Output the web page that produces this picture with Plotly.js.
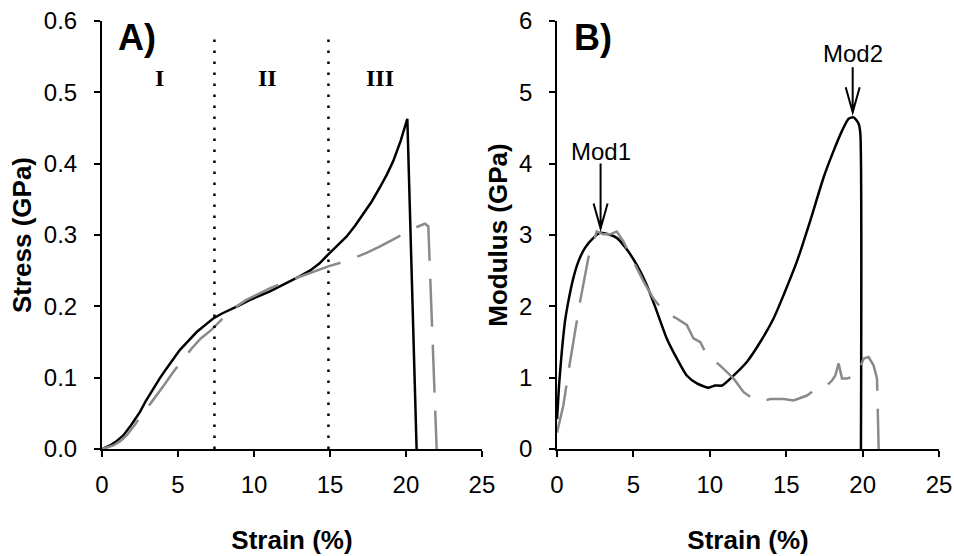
<!DOCTYPE html>
<html>
<head>
<meta charset="utf-8">
<script src="https://cdn.plot.ly/plotly-3.0.1.min.js"></script>
<style>
  html, body { margin: 0; padding: 0; background: #ffffff; }
  #chart { width: 954px; height: 556px; }
</style>
</head>
<body>
<div id="chart"></div>
<script>
// ---- Panel A: stress-strain ----
var strainA_solid = [0, 0.53, 0.9, 1.4, 1.9, 2.5, 2.9, 3.38, 3.8, 4.25, 4.7, 5.13, 5.7, 6.23, 6.8, 7.32, 7.9, 8.42, 9.0, 9.74, 10.4, 11.05, 11.7, 12.37, 13.0, 13.68, 14.3, 14.89, 15.5, 16.1, 16.65, 17.19, 17.75, 18.29, 18.75, 19.17, 19.65, 20.09, 20.7];
var stressA_solid = [0, 0.005, 0.01, 0.019, 0.033, 0.052, 0.068, 0.085, 0.099, 0.113, 0.126, 0.139, 0.152, 0.164, 0.174, 0.183, 0.19, 0.195, 0.201, 0.209, 0.215, 0.221, 0.228, 0.235, 0.242, 0.25, 0.26, 0.273, 0.285, 0.298, 0.313, 0.329, 0.347, 0.367, 0.385, 0.404, 0.432, 0.463, 0];

var strainA_dash = [0, 0.75, 1.2, 1.62, 2.2, 2.72, 3.2, 3.6, 4.1, 4.69, 5.3, 5.9, 6.5, 7.2, 7.9, 8.64, 9.5, 10.4, 11.1, 11.93, 12.8, 13.68, 14.3, 14.89, 15.99, 16.7, 17.41, 18.3, 19.17, 19.8, 20.48, 21.25, 21.47, 22.02];
var stressA_dash = [0, 0.005, 0.011, 0.019, 0.035, 0.052, 0.064, 0.075, 0.09, 0.108, 0.125, 0.141, 0.155, 0.167, 0.182, 0.197, 0.209, 0.219, 0.226, 0.233, 0.24, 0.247, 0.252, 0.256, 0.263, 0.269, 0.275, 0.284, 0.294, 0.301, 0.309, 0.316, 0.312, 0];

var regionBounds = [7.4, 14.9];
var regionLabels = ['I', 'II', 'III'];
var regionLabelX = [3.8, 10.9, 18.3];
var regionLabelY = 0.52;

// ---- Panel B: modulus-strain ----
var strainB_solid = [0, 0.13, 0.31, 0.52, 0.74, 1.07, 1.4, 1.83, 2.38, 2.82, 3.36, 3.91, 4.56, 5.22, 5.87, 6.53, 7.18, 7.84, 8.49, 9.15, 9.91, 10.35, 10.79, 11.55, 12.42, 13.3, 14.17, 14.83, 15.7, 16.57, 17.45, 18.1, 18.65, 19.08, 19.41, 19.74, 19.85, 19.89];
var modB_solid = [0.42, 0.89, 1.36, 1.79, 2.07, 2.4, 2.63, 2.82, 2.96, 3.03, 3.01, 2.96, 2.8, 2.58, 2.3, 1.93, 1.55, 1.27, 1.03, 0.92, 0.86, 0.89, 0.89, 1.03, 1.22, 1.5, 1.83, 2.16, 2.63, 3.2, 3.81, 4.18, 4.46, 4.63, 4.65, 4.56, 4.42, 0];

var strainB_dash = [0, 0.41, 0.85, 1.51, 2.05, 2.6, 3.03, 3.47, 3.91, 4.34, 5.0, 5.66, 6.31, 6.97, 7.84, 8.49, 8.93, 9.37, 9.8, 10.68, 11.55, 12.2, 12.86, 13.3, 13.95, 14.83, 15.48, 16.36, 16.8, 17.45, 18.0, 18.21, 18.43, 18.65, 18.98, 19.63, 20.07, 20.39, 20.72, 20.94, 21.05];
var modB_dash = [0.23, 0.61, 1.22, 2.07, 2.68, 3.05, 3.01, 3.01, 3.05, 2.91, 2.63, 2.35, 2.11, 1.93, 1.83, 1.74, 1.55, 1.5, 1.32, 1.17, 0.99, 0.8, 0.7, 0.66, 0.7, 0.7, 0.68, 0.75, 0.82, 0.85, 0.96, 1.03, 1.2, 0.99, 0.99, 1.03, 1.27, 1.29, 1.17, 0.99, 0];

var modPeaks = [{label: 'Mod1', x: 2.85, y: 3.05, len: 65, textUp: 80},
                {label: 'Mod2', x: 19.35, y: 4.68, len: 45, textUp: 62}];

var panelLabels = ['A)', 'B)'];

// ---- style ----
var FONT = 'Liberation Sans, Arial, sans-serif';
var SERIF = 'Liberation Serif, Times New Roman, serif';
var BLACK = '#000000';
var GRAY = '#8a8a8a';
var DASH = '48px,18px';

var traces = [
  {x: strainA_solid, y: stressA_solid, xaxis: 'x', yaxis: 'y', mode: 'lines',
   line: {color: BLACK, width: 2.5}, hoverinfo: 'skip'},
  {x: strainA_dash, y: stressA_dash, xaxis: 'x', yaxis: 'y', mode: 'lines',
   line: {color: GRAY, width: 2.5, dash: DASH}, hoverinfo: 'skip'},
  {x: strainB_solid, y: modB_solid, xaxis: 'x2', yaxis: 'y2', mode: 'lines',
   line: {color: BLACK, width: 2.5, shape: 'spline', smoothing: 0.6}, hoverinfo: 'skip'},
  {x: strainB_dash, y: modB_dash, xaxis: 'x2', yaxis: 'y2', mode: 'lines',
   line: {color: GRAY, width: 2.5, dash: DASH}, hoverinfo: 'skip'}
];

function xAxis(domain, anchor) {
  return {
    domain: domain, anchor: anchor, range: [0, 25], dtick: 5, tick0: 0,
    showgrid: false, zeroline: false, showline: true, linecolor: BLACK, linewidth: 2,
    ticks: 'outside', ticklen: 6, tickwidth: 2, tickcolor: BLACK,
    tickfont: {family: FONT, size: 24, color: BLACK}, ticklabelstandoff: 7,
    title: {text: '<b>Strain (%)</b>', font: {family: FONT, size: 26, color: BLACK}, standoff: 34},
    fixedrange: true
  };
}
function yAxis(domain, anchor, range, dtick, fmt, title, st) {
  return {
    domain: domain, anchor: anchor, range: range, dtick: dtick, tick0: 0, tickformat: fmt,
    showgrid: false, zeroline: false, showline: true, linecolor: BLACK, linewidth: 2,
    ticks: 'outside', ticklen: 6, tickwidth: 2, tickcolor: BLACK,
    tickfont: {family: FONT, size: 24, color: BLACK}, ticklabelstandoff: 12,
    title: {text: '<b>' + title + '</b>', font: {family: FONT, size: 26, color: BLACK}, standoff: st},
    fixedrange: true
  };
}

var yDom = [0.1924, 0.9622];
var shapes = [];
regionBounds.forEach(function (b) {
  shapes.push({type: 'line', xref: 'x', yref: 'y', x0: b, x1: b, y0: 0, y1: 0.575,
    line: {color: BLACK, width: 2.5, dash: '2.5px,8.5px'}});
});
modPeaks.forEach(function (m) {
  shapes.push({type: 'path', xref: 'x2', yref: 'y2', xsizemode: 'pixel', ysizemode: 'pixel',
    xanchor: m.x, yanchor: m.y,
    path: 'M0,3 L0,' + (3 + m.len) + ' M-7,28 L0,3 L7,28',
    line: {color: BLACK, width: 2}});
});

var annotations = [];
regionLabels.forEach(function (t, i) {
  annotations.push({xref: 'x', yref: 'y', x: regionLabelX[i], y: regionLabelY, text: '<b>' + t + '</b>',
    showarrow: false, xanchor: 'center', yanchor: 'middle', font: {family: SERIF, size: 24, color: BLACK}});
});
modPeaks.forEach(function (m) {
  annotations.push({xref: 'x2', yref: 'y2', x: m.x, y: m.y, yshift: m.textUp, text: m.label,
    showarrow: false, xanchor: 'center', yanchor: 'middle', font: {family: FONT, size: 24, color: BLACK}});
});
annotations.push({xref: 'x', yref: 'y', x: 0.9, y: 0.577, text: '<b>' + panelLabels[0] + '</b>', showarrow: false,
  xanchor: 'left', yanchor: 'middle', font: {family: FONT, size: 36, color: BLACK}});
annotations.push({xref: 'x2', yref: 'y2', x: 1.0, y: 5.77, text: '<b>' + panelLabels[1] + '</b>', showarrow: false,
  xanchor: 'left', yanchor: 'middle', font: {family: FONT, size: 36, color: BLACK}});

var layout = {
  width: 954, height: 556,
  margin: {l: 0, r: 0, t: 0, b: 0},
  paper_bgcolor: '#ffffff', plot_bgcolor: '#ffffff',
  showlegend: false,
  font: {family: FONT, color: BLACK},
  xaxis: xAxis([0.1069, 0.5052], 'y'),
  yaxis: yAxis(yDom, 'x', [0, 0.6], 0.1, '.1f', 'Stress (GPa)', 5),
  xaxis2: xAxis([0.5839, 0.9843], 'y2'),
  yaxis2: yAxis(yDom, 'x2', [0, 6], 1, 'd', 'Modulus (GPa)', 4),
  shapes: shapes,
  annotations: annotations
};

Plotly.newPlot('chart', traces, layout, {displayModeBar: false, staticPlot: true});
</script>
</body>
</html>
